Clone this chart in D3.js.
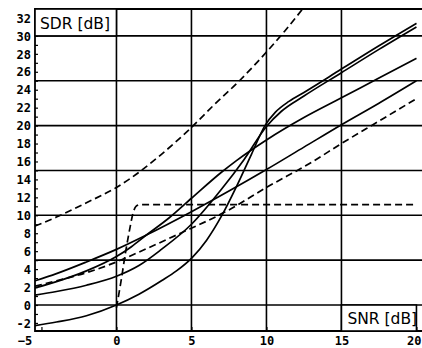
<!DOCTYPE html>
<html>
<head>
<meta charset="utf-8">
<script src="https://cdn.jsdelivr.net/npm/d3@7"></script>
<style>
  html, body { margin: 0; padding: 0; background: #fff; }
  #chart { width: 422px; height: 348px; }
  .tick-label { font-family: "DejaVu Sans Mono", monospace; font-weight: bold; font-size: 12px; fill: #000; }
  .axis-title { font-family: "DejaVu Sans", sans-serif; font-size: 15.5px; fill: #000; }
</style>
</head>
<body>
<div id="chart"></div>
<script>
// SNR (x) / SDR (y) values, one pair of arrays per curve
const upperDashedX = [-5.43, -4, -2, 0, 1.5, 3, 5, 6.5, 8.2, 10, 11.2, 12.6];
const upperDashedY = [8.8, 9.8, 11.4, 13.1, 14.8, 16.8, 19.8, 22.3, 25.0, 28.2, 30.5, 33.4];

const stepDashedX = [0, 0.3, 0.6, 0.9, 1.1, 1.3, 1.6, 2.5, 20];
const stepDashedY = [-0.3, 2.6, 5.8, 8.6, 10.2, 11.0, 11.2, 11.2, 11.2];

const lowerDashedX = [-5.43, -4, -2, 0, 1.5, 4, 7.5, 10, 13, 15, 17.5, 20];
const lowerDashedY = [2.1, 2.7, 3.6, 4.8, 5.9, 7.8, 10.6, 13.1, 15.9, 18.0, 20.5, 23.0];

const solidAX = [-5.43, -4, -2, 0, 2, 5, 7.5, 10, 12.5, 15, 17.5, 20];
const solidAY = [2.7, 3.5, 4.8, 6.2, 7.8, 10.4, 12.7, 15.1, 17.6, 20.1, 22.5, 25.0];

const solidBX = [-5.43, -4, -2, 0, 1, 2, 3.5, 5, 7, 8, 10, 12.5, 15, 17.5, 20];
const solidBY = [1.9, 2.6, 3.8, 5.4, 6.5, 7.8, 9.7, 11.9, 14.8, 16.1, 18.4, 20.9, 23.1, 25.3, 27.5];

const solidCX = [-5.43, -4, -2, 0, 1.5, 3, 5, 7, 8.5, 10, 11, 12.5, 15, 17.5, 20];
const solidCY = [1.1, 1.5, 2.2, 3.2, 4.4, 6.2, 9.0, 12.9, 16.2, 19.9, 21.6, 23.3, 25.9, 28.5, 31.0];

const solidDX = [-5.43, -4, -2, 0, 1.5, 3, 4, 5, 6, 7, 8, 9, 9.9, 10.6, 11.5, 12.5, 15, 17.5, 20];
const solidDY = [-2.3, -1.9, -1.2, 0, 1.2, 2.7, 3.8, 5.2, 7.2, 9.9, 13.2, 16.8, 20.0, 21.5, 22.7, 23.7, 26.3, 28.9, 31.4];

const xTicks = [-5, 0, 5, 10, 15, 20];
const yTicks = [-2, 0, 2, 4, 6, 8, 10, 12, 14, 16, 18, 20, 22, 24, 26, 28, 30, 32];
const xGrid = [0, 5, 10, 15];
const yGrid = [0, 5, 10, 15, 20, 25, 30];

const curves = [
  { x: solidAX, y: solidAY, dashed: false },
  { x: solidBX, y: solidBY, dashed: false },
  { x: solidCX, y: solidCY, dashed: false },
  { x: solidDX, y: solidDY, dashed: false },
  { x: upperDashedX, y: upperDashedY, dashed: true },
  { x: stepDashedX, y: stepDashedY, dashed: true },
  { x: lowerDashedX, y: lowerDashedY, dashed: true }
];

document.addEventListener('DOMContentLoaded', () => {
  const W = 422, H = 348;
  const svg = d3.select('#chart').append('svg')
    .attr('width', W)
    .attr('height', H);

  const left = 35, right = 422, top = 9, bottom = 331;

  const xScale = d3.scaleLinear().domain([-5.43, 20.37]).range([left, right]);
  const yScale = d3.scaleLinear().domain([-2.9, 33.0]).range([bottom, top]);

  svg.append('clipPath').attr('id', 'plot-clip')
    .append('rect')
    .attr('x', left).attr('y', top)
    .attr('width', right - left).attr('height', bottom - top);

  // grid
  const grid = svg.append('g');
  grid.selectAll('.vgrid').data(xGrid).enter().append('line')
    .attr('x1', d => xScale(d)).attr('x2', d => xScale(d))
    .attr('y1', top).attr('y2', bottom)
    .attr('stroke', '#000').attr('stroke-width', 1.6);
  grid.selectAll('.hgrid').data(yGrid).enter().append('line')
    .attr('x1', left).attr('x2', right)
    .attr('y1', d => yScale(d)).attr('y2', d => yScale(d))
    .attr('stroke', '#000').attr('stroke-width', 1.6);

  // curves
  const line = d3.line()
    .x(d => xScale(d[0]))
    .y(d => yScale(d[1]))
    .curve(d3.curveMonotoneX);

  svg.append('g').attr('clip-path', 'url(#plot-clip)')
    .selectAll('path').data(curves).enter().append('path')
    .attr('d', c => line(c.x.map((v, i) => [v, c.y[i]])))
    .attr('fill', 'none')
    .attr('stroke', '#000')
    .attr('stroke-width', 1.7)
    .attr('stroke-dasharray', c => c.dashed ? '7,4' : null);

  // frame (no right edge, as in the original)
  svg.append('path')
    .attr('d', `M${right},${top}H${left}V${bottom}H${right}`)
    .attr('fill', 'none').attr('stroke', '#000').attr('stroke-width', 1.8);

  // y axis ticks and labels
  const yAxis = d3.axisLeft(yScale)
    .tickValues(d3.range(-2, 33, 1))
    .tickSize(-3)
    .tickFormat(d => yTicks.includes(d) ? d : '');
  const yg = svg.append('g').attr('transform', `translate(${left},0)`).call(yAxis);
  yg.select('.domain').remove();
  yg.selectAll('.tick line').attr('stroke', '#000').attr('stroke-width', 1.2);
  yg.selectAll('.tick text').attr('class', 'tick-label').attr('x', -4).attr('dy', '0.35em');

  // x axis labels
  const xAxis = d3.axisBottom(xScale)
    .tickValues(xTicks)
    .tickSize(-4);
  const xg = svg.append('g').attr('transform', `translate(0,${bottom})`).call(xAxis);
  xg.select('.domain').remove();
  xg.selectAll('.tick line').attr('stroke', '#000').attr('stroke-width', 1.2);
  xg.selectAll('.tick text').attr('class', 'tick-label').attr('y', 5).attr('dy', '0.71em')
    .attr('dx', d => d === -5 ? -17 : 0)
    .attr('text-anchor', d => d === 20 ? 'end' : 'middle')
    .filter(d => d === 20).attr('x', right - 1 - xScale(20));

  // axis title boxes
  const sdrBox = svg.append('g');
  sdrBox.append('rect')
    .attr('x', left).attr('y', top)
    .attr('width', xScale(0) - left).attr('height', yScale(30) - top)
    .attr('fill', '#fff').attr('stroke', '#000').attr('stroke-width', 1.6);
  sdrBox.append('text').attr('class', 'axis-title')
    .attr('x', left + 5).attr('y', yScale(30) - 7)
    .text('SDR [dB]');

  const snrBox = svg.append('g');
  snrBox.append('rect')
    .attr('x', xScale(15)).attr('y', yScale(0))
    .attr('width', xScale(20) - xScale(15)).attr('height', bottom - yScale(0))
    .attr('fill', '#fff').attr('stroke', '#000').attr('stroke-width', 1.6);
  snrBox.append('text').attr('class', 'axis-title')
    .attr('x', xScale(15) + 6).attr('y', bottom - 7)
    .text('SNR [dB]');
});
</script>
</body>
</html>
